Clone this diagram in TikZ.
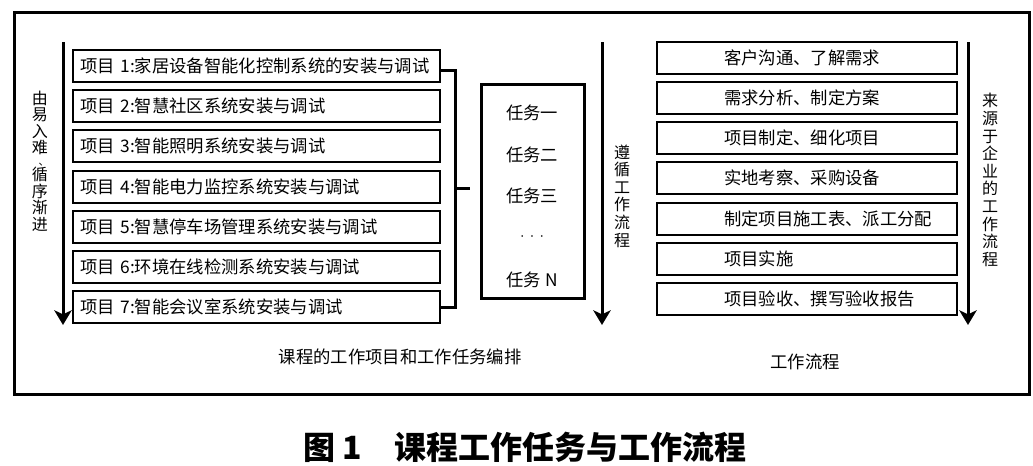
\documentclass[tikz,border=0pt]{standalone}
\usepackage{fontspec}
\setmainfont{Noto Sans CJK SC}
\usetikzlibrary{arrows.meta}
\tikzset{
  box/.style={draw, line width=1.5pt, minimum height=24pt, inner xsep=5.25pt, align=left},
  projbox/.style={box, text width=264.75pt},
  flowbox/.style={box, text width=214.5pt, execute at begin node={\hspace*{45pt}}},
  taskbox/.style={draw, line width=2.25pt, minimum width=77.25pt, minimum height=160.5pt},
  vlabel/.style={align=center, inner sep=0pt, font=\fontsize{12pt}{13.2pt}\selectfont},
  flow/.style={line width=2.25pt, -{Stealth[length=11pt,width=13pt,inset=3pt]}},
  link/.style={line width=2.25pt},
}
\begin{document}
\begin{tikzpicture}[x=0.75pt, y=-0.75pt, font=\fontsize{13pt}{15pt}\selectfont]
\useasboundingbox (0,0) rectangle (1033,465);
\draw[line width=2.25pt] (14,12) rectangle (1029,394);
% projects, easy to hard
\coordinate (easytop) at (63,42);
\coordinate (easyend) at (63,325);
\draw[flow] (easytop) -- (easyend);
\node[vlabel, font=\fontsize{12pt}{12.4pt}\selectfont] (easy) at (40,161)
  {由\\易\\入\\难\\[-3.5pt]{\fontsize{8pt}{8pt}\selectfont\hspace*{6pt}、}\\[-1pt]循\\序\\渐\\进};
\node[projbox] (p1) at (256.5,66) {项目~1:家居设备智能化控制系统的安装与调试};
\node[projbox] (p2) at (256.5,105.5) {项目~2:智慧社区系统安装与调试};
\node[projbox] (p3) at (256.5,146) {项目~3:智能照明系统安装与调试};
\node[projbox] (p4) at (256.5,186.5) {项目~4:智能电力监控系统安装与调试};
\node[projbox] (p5) at (256.5,227) {项目~5:智慧停车场管理系统安装与调试};
\node[projbox] (p6) at (256.5,267) {项目~6:环境在线检测系统安装与调试};
\node[projbox] (p7) at (256.5,307) {项目~7:智能会议室系统安装与调试};
\coordinate (join) at (455,188);
\coordinate (stub) at (470,188);
\draw[link] ([yshift=-3pt]p1.east) -| (join) |- (p7.east);
\draw[link] (join) -- (stub);
% tasks
\node[taskbox] (tasks) at (532.5,191) {};
\node (t1) at (532,113) {任务一};
\node (t2) at (532,155) {任务二};
\node (t3) at (532,196) {任务三};
\node (tdots) at (532,237) {$\cdot$\hspace{4pt}$\cdot$\hspace{4pt}$\cdot$};
\node (tN) at (532,280) {任务 N};
% work process
\coordinate (worktop) at (602,42);
\coordinate (workend) at (602,325);
\draw[flow] (worktop) -- (workend);
\node[vlabel] (follow) at (622,196) {遵\\循\\工\\作\\流\\程};
\node[flowbox] (f1) at (807,58) {客户沟通、了解需求};
\node[flowbox] (f2) at (807,98) {需求分析、制定方案};
\node[flowbox] (f3) at (807,138) {项目制定、细化项目};
\node[flowbox] (f4) at (807,178) {实地考察、采购设备};
\node[flowbox] (f5) at (807,218.5) {制定项目施工表、派工分配};
\node[flowbox] (f6) at (807,258.5) {项目实施};
\node[flowbox] (f7) at (807,299) {项目验收、撰写验收报告};
\coordinate (firmtop) at (968,42);
\coordinate (firmend) at (968,325);
\draw[flow] (firmtop) -- (firmend);
\node[vlabel] (firm) at (990,180) {来\\源\\于\\企\\业\\的\\工\\作\\流\\程};
% captions
\node (plan) at (400,357) {课程的工作项目和工作任务编排};
\node (process) at (805,362) {工作流程};
\node[font=\fontsize{24pt}{28pt}\selectfont\bfseries] (title) at (525,447) {图 1\quad 课程工作任务与工作流程};
\end{tikzpicture}
\end{document}
